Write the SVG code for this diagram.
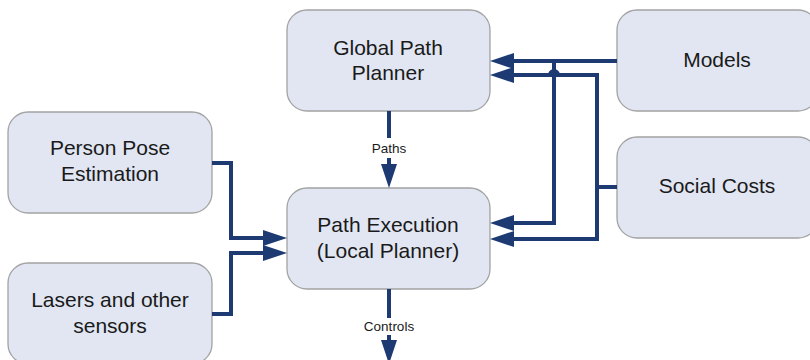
<svg xmlns="http://www.w3.org/2000/svg" width="810" height="360" viewBox="0 0 810 360">
<style>
.box{fill:#e1e6f2;stroke:#a3a3a3;stroke-width:1.3}
.t{font-family:"Liberation Sans",Arial,sans-serif;font-size:21px;fill:#1a1a1a;text-anchor:middle}
.lbl{font-family:"Liberation Sans",Arial,sans-serif;font-size:13.5px;fill:#1a1a1a;text-anchor:middle}
.c{fill:none;stroke:#1d3a72;stroke-width:4;stroke-linejoin:miter}
</style>
<defs>
<marker id="ah" markerUnits="userSpaceOnUse" markerWidth="26" markerHeight="18" refX="12" refY="9" orient="auto" overflow="visible">
<path d="M0,1 L24,9 L0,17 z" fill="#1d3a72"/>
</marker>
</defs>
<rect width="810" height="360" fill="#ffffff"/>
<g id="global-path-planner">
<rect class="box" x="287" y="10" width="203" height="101" rx="20"/>
<text class="t" x="388" y="55">Global Path</text>
<text class="t" x="388" y="80">Planner</text>
</g>
<g id="path-execution">
<rect class="box" x="287" y="188" width="203" height="101" rx="20"/>
<text class="t" x="388" y="232">Path Execution</text>
<text class="t" x="388" y="258">(Local Planner)</text>
</g>
<g id="person-pose">
<rect class="box" x="8" y="112" width="204" height="101" rx="20"/>
<text class="t" x="110" y="155">Person Pose</text>
<text class="t" x="110" y="181">Estimation</text>
</g>
<g id="lasers">
<rect class="box" x="8" y="263" width="204" height="101" rx="20"/>
<text class="t" x="110" y="307">Lasers and other</text>
<text class="t" x="110" y="333">sensors</text>
</g>
<g id="models">
<rect class="box" x="617" y="10" width="201" height="101" rx="20"/>
<text class="t" x="717" y="67">Models</text>
</g>
<g id="social-costs">
<rect class="box" x="617" y="137" width="201" height="101" rx="20"/>
<text class="t" x="717" y="193">Social Costs</text>
</g>
<g id="connectors">
<path class="c" d="M617,61 H502" marker-end="url(#ah)"/>
<path class="c" d="M554,61 V223 H502" marker-end="url(#ah)"/>
<path class="c" d="M617,187 H597"/>
<path class="c" d="M597,239 V75 H558 a4,4 0 0 0 -8,0 H502" marker-end="url(#ah)"/>
<path class="c" d="M597,75 V239 H502" marker-end="url(#ah)"/>
<path class="c" d="M212,163 H231 V238 H275" marker-end="url(#ah)"/>
<path class="c" d="M212,314 H231 V253 H275" marker-end="url(#ah)"/>
<path class="c" d="M389,111 V138"/>
<text class="lbl" x="389" y="153">Paths</text>
<path class="c" d="M389,158 V176" marker-end="url(#ah)"/>
<path class="c" d="M389,289 V318"/>
<text class="lbl" x="389" y="331">Controls</text>
<path class="c" d="M389,335 V352" marker-end="url(#ah)"/>
</g>
</svg>
